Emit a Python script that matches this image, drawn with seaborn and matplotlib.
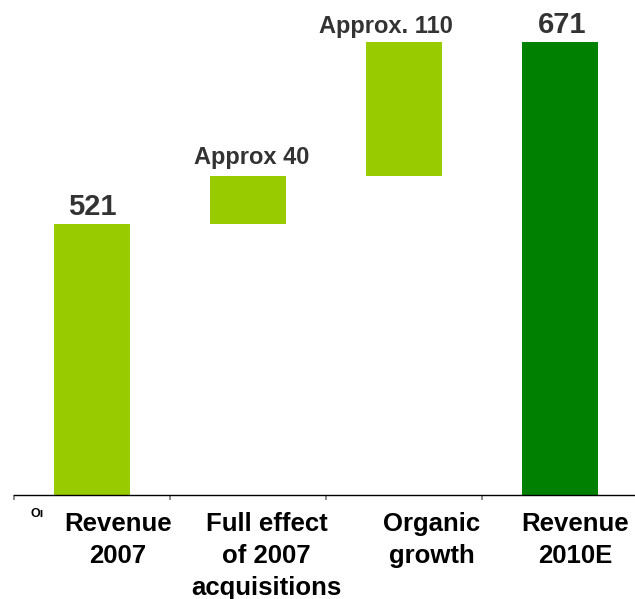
import numpy as np
import pandas as pd
import matplotlib
matplotlib.use("Agg")
import matplotlib.pyplot as plt
import seaborn as sns

# ---- data ----
categories = ["Revenue\n2007", "Full effect\nof 2007\nacquisitions", "Organic\ngrowth", "Revenue\n2010E"]
values = [521, 40, 110, 671]
kinds = ["total", "delta", "delta", "total"]
value_labels = ["521", "Approx 40", "Approx. 110", "671"]
bar_colors = ["#99CC00", "#99CC00", "#99CC00", "#008000"]

# waterfall tops / bottoms
tops, bottoms = [], []
running = 0
for v, k in zip(values, kinds):
    if k == "total":
        bottoms.append(0)
        tops.append(v)
        running = v
    else:
        bottoms.append(running)
        running += v
        tops.append(running)

df = pd.DataFrame({"cat": categories, "top": tops, "bottom": bottoms})

sns.set_theme(style="white")
plt.rcParams["font.family"] = ["Liberation Sans", "DejaVu Sans"]
plt.rcParams["font.weight"] = "bold"

W, H = 635, 599
fig = plt.figure(figsize=(W / 100, H / 100), dpi=100)
ax_left = 13.5 / W
ax_bottom = (H - 495) / H
ax = fig.add_axes([ax_left, ax_bottom, (638 - 13.5) / W, 1 - ax_bottom])

sns.barplot(data=df, x="cat", y="top", hue="cat", palette=bar_colors,
            width=0.487, saturation=1, legend=False, ax=ax, linewidth=0)
# mask the lower part of floating bars
sns.barplot(data=df, x="cat", y="bottom", color="white",
            width=0.52, saturation=1, ax=ax, linewidth=0)

ax.set_xlim(-0.5, 3.5)
ax.set_ylim(298, 706)
ax.set_xlabel("")
ax.set_ylabel("")
ax.set_yticks([])

for s in ["top", "right", "left"]:
    ax.spines[s].set_visible(False)
ax.spines["bottom"].set_color("black")
ax.spines["bottom"].set_linewidth(1.0)

# category labels (slightly shifted right as in the reference)
label_shift = [0.167, 0.12, 0.18, 0.10]
ax.set_xticks([i + d for i, d in enumerate(label_shift)])
ax.set_xticklabels(categories, fontsize=18.5, fontweight="bold", color="black",
                   linespacing=1.42, va="top")
ax.tick_params(axis="x", which="major", length=0, pad=12.5)
ax.set_xticks(np.arange(-0.5, 4, 1.0), minor=True)
ax.tick_params(axis="x", which="minor", bottom=True, length=3.5, width=1.2,
               color="#777777", direction="out")

# value labels
label_dx = [1, 4, -18, 2]
label_dy = [9, 12, 9, 9]
label_fs = [21, 17, 17, 21]
for i, (t, lab) in enumerate(zip(tops, value_labels)):
    ax.annotate(lab, xy=(i, t), xytext=(label_dx[i], label_dy[i]),
                textcoords="offset pixels", ha="center", va="baseline",
                fontsize=label_fs[i], fontweight="bold", color="#333333")

fig.text(37 / W, 1 - 514 / H, "Oı", fontsize=9, fontweight="bold",
         ha="center", va="center", color="black")

fig.savefig("out.png", dpi=100)
